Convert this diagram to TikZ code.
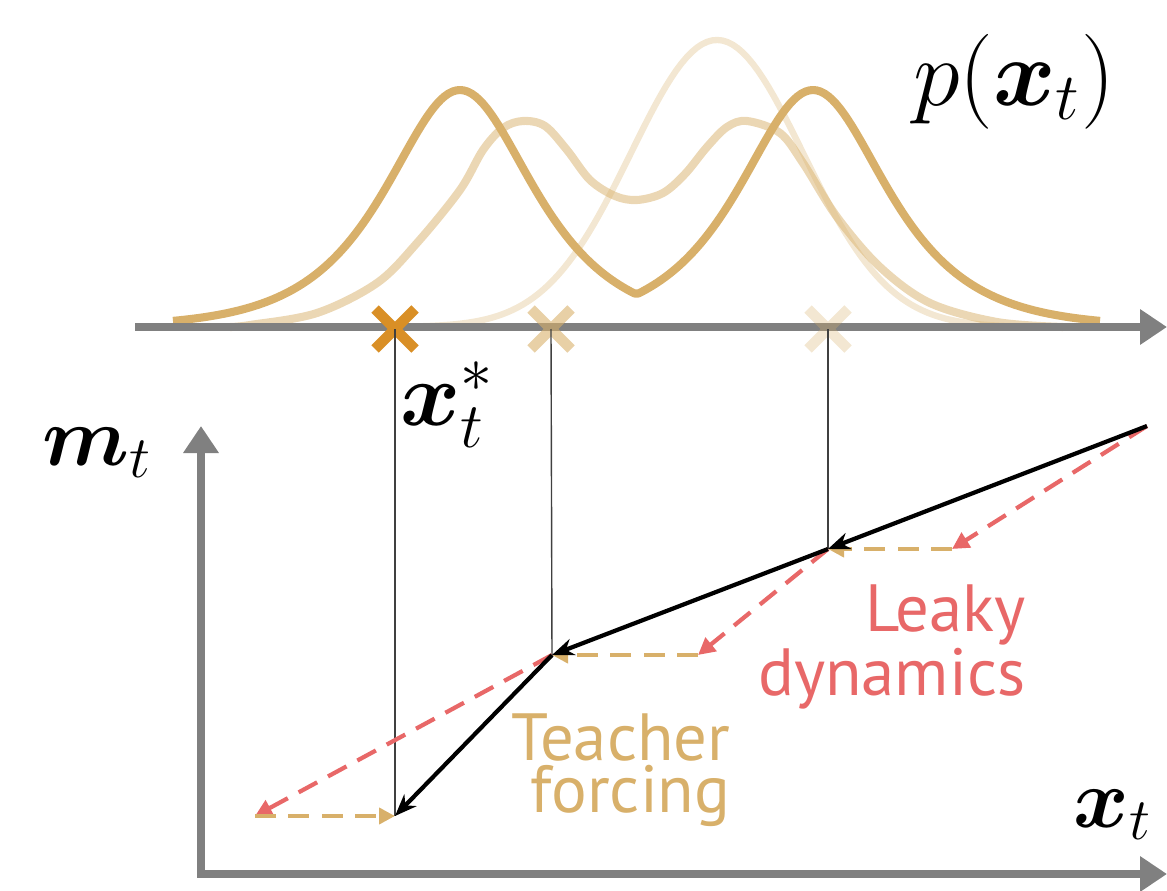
\RequirePackage{fix-cm}
\documentclass[tikz,border=0pt]{standalone}
\usepackage{amsmath,bm}
\usepackage{fontspec}
\newfontfamily\labelfont{PT Sans}
\usetikzlibrary{arrows.meta}

\definecolor{tan}{RGB}{216,176,106}
\definecolor{crossorange}{RGB}{217,143,38}
\definecolor{leaky}{RGB}{232,104,104}
\definecolor{axisgray}{RGB}{128,128,128}

\begin{document}
\begin{tikzpicture}[x=0.1mm, y=-0.1mm,
	axisline/.style={draw=axisgray, line width=2.3pt, line join=miter,
		-{Triangle[length=2.7mm,width=3.4mm]}},
	density/.style={draw=tan, line width=2.3pt, line join=round},
	xmark/.style={line width=3pt},
	guide/.style={black!75, line width=0.4pt},
	nextstep/.style={black, line width=1.2pt, -{Stealth[length=2.2mm,width=1.7mm]}},
	leakystep/.style={leaky, line width=1.2pt, dash pattern=on 6pt off 3.5pt,
		-{Triangle[length=1.7mm,width=1.7mm]}},
	forcing/.style={tan, line width=1.2pt, dash pattern=on 6pt off 3.5pt,
		-{Triangle[length=1.6mm,width=1.6mm]}},
	mathlabel/.style={inner sep=0pt},
	sanslabel/.style={inner sep=0pt, align=right, font=\labelfont\fontsize{19}{13.4}\selectfont},
	declare function={sechpeak(\x)=237/cosh(min(abs(\x-460),abs(\x-813))/66);
		gausspeak(\x)=287*exp(-0.5*((\x-717)/86)^2);}
	]
	\useasboundingbox (0,0) rectangle (1167,891);
	
	%--- densities p(x_t) ---
	\draw[density, line width=1.8pt, draw opacity=0.3]
	plot[domain=420:1030, samples=120] (\x, {327-gausspeak(\x)});
	\draw[density, draw opacity=0.5] plot[smooth, tension=0.55] coordinates {
		(230,327) (250,325) (317,313) (377,283) (417,243) (460,190) (483,150)
		(503,128) (523,121) (545,126) (567,150) (590,180) (615,196) (637,200)
		(663,193) (685,174) (707,147) (727,127) (747,121) (780,133) (803,163)
		(837,217) (880,267) (930,303) (997,322) (1063,327)};
	\draw[density] plot[domain=173:1100, samples=240] (\x, {327-sechpeak(\x)});
	
	% state axis
	\draw[axisline] (135,327) -- (1167,327);
	
	% samples on the axis
	\coordinate (c1) at (395,329);
	\coordinate (c2) at (551,329);
	\coordinate (c3) at (828,329);
	\draw[xmark, draw=crossorange] (c1) ++(-20,-20) -- ++(40,40) (c1) ++(-20,20) -- ++(40,-40);
	\draw[xmark, draw=tan, draw opacity=0.6] (c2) ++(-20,-20) -- ++(40,40) (c2) ++(-20,20) -- ++(40,-40);
	\draw[xmark, draw=tan, draw opacity=0.3] (c3) ++(-20,-20) -- ++(40,40) (c3) ++(-20,20) -- ++(40,-40);
	
	% trajectory points
	\coordinate (s0) at (1147,426);
	\coordinate (s1) at (828,549);
	\coordinate (s2) at (552,655);
	\coordinate (s3) at (395,816);
	\coordinate (l1) at (952,549);
	\coordinate (l2) at (698,655);
	\coordinate (l3) at (255,816);
	
	% guides from samples down to the trajectory
	\draw[guide] (c1) -- (s3);
	\draw[guide] (c2) -- (s2);
	\draw[guide] (c3) -- (s1);
	
	% m_t / x_t axes
	\draw[axisline, {Triangle[length=2.7mm,width=3.4mm]}-{Triangle[length=2.7mm,width=3.4mm]}]
	(201,426) -- (201,874) -- (1167,874);
	
	% leaky dynamics, then teacher forcing
	\draw[leakystep] (s0) -- (l1);
	\draw[forcing] (l1) -- (s1);
	\draw[leakystep] (s1) -- (l2);
	\draw[forcing] (l2) -- (s2);
	\draw[leakystep] (s2) -- (l3);
	\draw[forcing] (l3) -- (s3);
	
	% actual trajectory
	\draw[nextstep] (s0) -- (s1);
	\draw[nextstep] (s1) -- (s2);
	\draw[nextstep] (s2) -- (s3);
	
	% labels
	\node[mathlabel, font=\fontsize{27}{30}\selectfont] (pxt) at (1014,82) {$p(\bm{x}_t)$};
	\node[mathlabel, anchor=base west, font=\fontsize{26}{30}\selectfont] (xstar) at (400,425) {$\bm{x}_t^*$};
	\node[mathlabel, anchor=base west, font=\fontsize{24}{30}\selectfont] (mt) at (42,465) {$\bm{m}_t$};
	\node[mathlabel, anchor=base west, font=\fontsize{24}{30}\selectfont] (xt) at (1073,827) {$\bm{x}_t$};
	\node[sanslabel, text=tan, anchor=north east] (tf) at (731,713) {Teacher\\forcing};
	\node[sanslabel, text=leaky, anchor=north east] (ld) at (1026,584) {Leaky\\dynamics};
	
\end{tikzpicture}
\end{document}
